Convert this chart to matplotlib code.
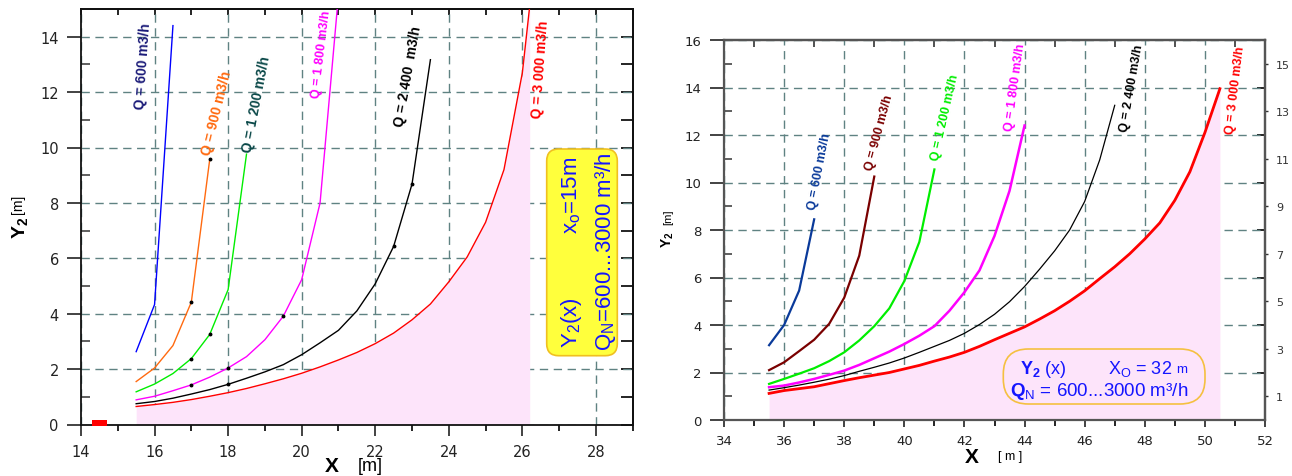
import numpy as np
import matplotlib
matplotlib.use('Agg')
import matplotlib.pyplot as plt
from matplotlib import font_manager
from matplotlib.patches import FancyBboxPatch, Rectangle

installed = {f.name for f in font_manager.fontManager.ttflist}
NARROW = 'Liberation Sans Narrow' if 'Liberation Sans Narrow' in installed else 'Liberation Sans'

plt.rcParams['font.family'] = ['DejaVu Sans']
plt.rcParams['mathtext.fontset'] = 'custom'
plt.rcParams['mathtext.rm'] = 'Liberation Sans'
plt.rcParams['mathtext.bf'] = 'Liberation Sans:bold'
plt.rcParams['mathtext.it'] = 'Liberation Sans:italic'

# ---- left chart, x0 = 15 m ----
L_X = [15.5, 16.0, 16.5, 17.0, 17.5, 18.0, 18.5, 19.0, 19.5, 20.0, 20.5, 21.0,
       21.5, 22.0, 22.5, 23.0, 23.5, 24.0, 24.5, 25.0, 25.5, 26.0, 26.2]
L_Q600 = [2.63, 4.33, 14.4]
L_Q900 = [1.55, 2.04, 2.85, 4.42, 9.57]
L_Q1200 = [1.18, 1.46, 1.84, 2.38, 3.25, 4.87, 9.76]
L_Q1800 = [0.89, 1.02, 1.22, 1.43, 1.71, 2.04, 2.45, 3.06, 3.91, 5.23, 8.0, 15.5]
L_Q2400 = [0.75, 0.83, 0.95, 1.1, 1.26, 1.45, 1.67, 1.9, 2.16, 2.52, 2.95, 3.4,
           4.1, 5.08, 6.43, 8.68, 13.17]
L_Q3000 = [0.65, 0.72, 0.8, 0.9, 1.02, 1.15, 1.3, 1.47, 1.65, 1.85, 2.08, 2.33,
           2.6, 2.92, 3.3, 3.78, 4.35, 5.15, 6.05, 7.3, 9.2, 12.7, 15.1]
L_LABELS = ['Q = 600 m3/h', 'Q = 900 m3/h', 'Q = 1 200 m3/h', 'Q = 1 800 m3/h',
            'Q = 2 400  m3/h', 'Q = 3 000 m3/h']

# ---- right chart, x0 = 32 m ----
R_X = [35.5, 36.0, 36.5, 37.0, 37.5, 38.0, 38.5, 39.0, 39.5, 40.0, 40.5, 41.0,
       41.5, 42.0, 42.5, 43.0, 43.5, 44.0, 44.5, 45.0, 45.5, 46.0, 46.5, 47.0,
       47.5, 48.0, 48.5, 49.0, 49.5, 50.0, 50.5]
R_Q600 = [3.15, 4.0, 5.45, 8.45]
R_Q900 = [2.1, 2.43, 2.9, 3.38, 4.05, 5.15, 6.92, 10.25]
R_Q1200 = [1.52, 1.73, 1.95, 2.18, 2.48, 2.85, 3.35, 3.95, 4.7, 5.85, 7.5, 10.55]
R_Q1800 = [1.38, 1.45, 1.58, 1.73, 1.9, 2.08, 2.32, 2.6, 2.88, 3.2, 3.55, 3.95,
           4.6, 5.38, 6.3, 7.75, 9.65, 12.4]
R_Q2400 = [1.26, 1.36, 1.47, 1.59, 1.72, 1.87, 2.05, 2.22, 2.4, 2.61, 2.85, 3.1,
           3.35, 3.65, 4.02, 4.45, 4.98, 5.62, 6.35, 7.12, 8.0, 9.2, 10.95, 13.25]
R_Q3000 = [1.12, 1.24, 1.32, 1.4, 1.53, 1.66, 1.78, 1.89, 2.0, 2.15, 2.3, 2.48,
           2.65, 2.85, 3.1, 3.38, 3.65, 3.92, 4.25, 4.6, 5.0, 5.44, 5.95, 6.45,
           7.0, 7.62, 8.3, 9.25, 10.45, 12.1, 13.95]
R_LABELS = ['Q = 600 m3/h', 'Q = 900 m3/h', 'Q = 1 200 m3/h', 'Q = 1 800 m3/h',
            'Q = 2 400 m3/h', 'Q = 3 000 m3/h']

PINK = '#fde4fa'
GRID = '#5f8282'
BLUE = '#1515ff'

W, H = 1292, 477
fig = plt.figure(figsize=(W / 100, H / 100), dpi=100)


def px_axes(x0, y0, x1, y1):
    return fig.add_axes([x0 / W, 1 - y1 / H, (x1 - x0) / W, (y1 - y0) / H])


def ftext(x, y, s, **kw):
    return fig.text(x / W, 1 - y / H, s, **kw)


# ================= left chart =================
axL = px_axes(81, 10, 632.7, 425.5)
axL.set_xlim(14, 29)
axL.set_ylim(0, 15)
axL.set_axisbelow(True)

left_curves = [L_Q600, L_Q900, L_Q1200, L_Q1800, L_Q2400, L_Q3000]
left_line_c = ['#0000ff', '#ff6a10', '#00ee00', '#ff00ff', '#000000', '#ff0000']
left_text_c = ['#1a1a78', '#ff6a10', '#0a4848', '#ff00ff', '#000000', '#ff0000']
left_dots = [[], [3, 4], [3, 4], [3, 5, 8], [5, 14, 15], []]

axL.fill_between(L_X, 0, L_Q3000, color=PINK, lw=0, zorder=1)
for ys, c, dots in zip(left_curves, left_line_c, left_dots):
    xs = L_X[:len(ys)]
    axL.plot(xs, ys, color=c, lw=1.0, zorder=3)
    if dots:
        axL.plot([xs[i] for i in dots], [ys[i] for i in dots], 'o', color='black',
                 ms=1.8, zorder=4)

left_lab_pos = [(15.68, 12.96, 86), (17.69, 11.28, 76), (18.77, 11.58, 79),
                (20.54, 13.39, 83), (22.9, 12.6, 80), (26.49, 12.85, 86)]
left_lab_fs = [10, 10, 10, 9, 10, 10]
for s, c, (x, y, r), fs in zip(L_LABELS, left_text_c, left_lab_pos, left_lab_fs):
    axL.text(x, y, s, rotation=r, rotation_mode='anchor', ha='center', va='center',
             color=c, fontsize=fs, fontweight='bold', family=NARROW, zorder=5)

# small red marker at the start of the x axis
axL.add_patch(Rectangle((14.3, -0.06), 0.4, 0.22, color='#ff0000', lw=0,
                        clip_on=False, zorder=6))

axL.set_xticks(np.arange(14, 30, 2))
axL.set_xticks(np.arange(15, 30, 2), minor=True)
axL.set_yticks(np.arange(0, 16, 2))
axL.set_yticks(np.arange(1, 16, 2), minor=True)
axL.grid(True, which='major', color=GRID, lw=1.0, linestyle=(0, (6, 4)))
axL.tick_params(axis='y', which='major', direction='out', length=10, width=1.2,
                labelsize=10.5, pad=6, colors='#222222')
axL.tick_params(axis='y', which='minor', direction='in', length=6.5, width=1.2,
                color='#444444')
axL.tick_params(axis='x', which='major', direction='out', length=8, width=1.2,
                labelsize=10.5, pad=6, colors='#222222')
axL.tick_params(axis='x', which='minor', direction='out', length=4.5, width=1.2)
for sp in axL.spines.values():
    sp.set_color('#111111')
    sp.set_linewidth(1.3)

topL = axL.secondary_xaxis('top')
topL.set_xticks(np.arange(14, 30))
topL.tick_params(direction='in', length=4.5, width=1.2, labeltop=False)
rightL = axL.secondary_yaxis('right')
rightL.set_yticks(np.arange(0, 16))
rightL.tick_params(direction='in', length=9, width=1.2, labelright=False)
for sec in (topL, rightL):
    for sp in sec.spines.values():
        sp.set_linewidth(1.3)

# yellow info box
fig.add_artist(FancyBboxPatch((546.7 / 100, (H - 356.7) / 100), 0.706, 2.067,
                              boxstyle='round,pad=0,rounding_size=0.12',
                              transform=fig.dpi_scale_trans, fc='#ffff3c',
                              ec='#f0c020', lw=1.2, zorder=5))
ftext(572, 323, 'Y$_\\mathregular{2}$(x)', rotation=90, ha='center', va='center',
      fontsize=16, color=BLUE, family=NARROW, zorder=6)
ftext(572, 195, 'x$_\\mathregular{o}$=15m', rotation=90, ha='center', va='center',
      fontsize=16, color=BLUE, family=NARROW, zorder=6)
ftext(605, 252, 'Q$_\\mathregular{N}$=600...3000 m³/h', rotation=90, ha='center',
      va='center', fontsize=16, color=BLUE, family=NARROW, zorder=6)

ftext(20, 228, '$\\mathbf{Y_2}$', rotation=90, ha='center', va='center', fontsize=14)
ftext(18, 204, '[m]', rotation=90, ha='center', va='center', fontsize=10,
      family='Liberation Sans')
ftext(332, 467, 'X', ha='center', va='center', fontsize=15, fontweight='bold',
      family='Liberation Sans')
ftext(370, 467, '[m]', ha='center', va='center', fontsize=13, family='Liberation Sans')

# ================= right chart =================
axR = px_axes(724, 41, 1265, 421)
axR.set_xlim(34, 52)
axR.set_ylim(0, 16)
axR.set_axisbelow(True)

right_curves = [R_Q600, R_Q900, R_Q1200, R_Q1800, R_Q2400, R_Q3000]
right_c = ['#0a3a9a', '#7a0000', '#00ee00', '#ff00ff', '#000000', '#ff0000']
right_lw = [1.6, 1.6, 1.6, 1.8, 0.9, 2.0]

axR.fill_between(R_X, 0, R_Q3000, color=PINK, lw=0, zorder=1)
for ys, c, lw in zip(right_curves, right_c, right_lw):
    axR.plot(R_X[:len(ys)], ys, color=c, lw=lw, zorder=3)

right_lab_pos = [(37.19, 10.5, 79), (39.18, 12.11, 75), (41.36, 12.79, 77),
                 (43.69, 14.05, 82), (47.57, 14.0, 80), (51.03, 13.9, 83)]
for s, c, (x, y, r) in zip(R_LABELS, right_c, right_lab_pos):
    axR.text(x, y, s, rotation=r, rotation_mode='anchor', ha='center', va='center',
             color=c, fontsize=9, fontweight='bold', family=NARROW, zorder=5)

axR.set_xticks(np.arange(34, 53, 2))
axR.set_xticks(np.arange(35, 53, 2), minor=True)
axR.set_yticks(np.arange(0, 17, 2))
axR.set_yticks(np.arange(1, 17, 2), minor=True)
axR.grid(True, which='major', color=GRID, lw=1.0, linestyle=(0, (6, 4)))
axR.tick_params(axis='y', which='major', direction='out', length=10, width=1.2,
                labelsize=9.5, pad=6, colors='#222222')
axR.tick_params(axis='y', which='minor', direction='in', length=6, width=1.2,
                color='#444444')
axR.tick_params(axis='x', which='major', direction='out', length=5, width=1.2,
                labelsize=9.5, pad=5, colors='#222222')
axR.tick_params(axis='x', which='minor', direction='out', length=4, width=1.2)
for sp in axR.spines.values():
    sp.set_color('#555555')
    sp.set_linewidth(1.6)

topR = axR.secondary_xaxis('top')
topR.set_xticks(np.arange(35, 53, 2))
topR.tick_params(direction='in', length=5, width=1.2, labeltop=False, color='#333333')
rightR = axR.secondary_yaxis('right')
rightR.set_yticks(np.arange(1, 17, 2))
rightR.set_yticks(np.arange(0, 17, 2), minor=True)
rightR.tick_params(which='major', direction='out', length=2, width=1.0, pad=6,
                   labelsize=8, colors='#333333')
rightR.tick_params(which='minor', direction='in', length=6, width=1.2)
for sec in (topR, rightR):
    for sp in sec.spines.values():
        sp.set_color('#555555')
        sp.set_linewidth(1.6)

fig.add_artist(FancyBboxPatch((1003.3 / 100, (H - 405) / 100), 2.017, 0.55,
                              boxstyle='round,pad=0,rounding_size=0.25',
                              transform=fig.dpi_scale_trans, fc='none',
                              ec='#f5c040', lw=1.2, zorder=5))
ftext(1020, 369, '$\\mathbf{Y_2}$ (x)', ha='left', va='center', fontsize=13,
      color=BLUE, family='Liberation Sans', zorder=6)
ftext(1108, 369, 'X$_\\mathregular{O}$ = 32', ha='left', va='center', fontsize=13,
      color=BLUE, family='Liberation Sans', zorder=6)
ftext(1176, 370, 'm', ha='left', va='center', fontsize=9.5,
      color=BLUE, family='Liberation Sans', zorder=6)
ftext(1010, 392, '$\\mathbf{Q}$$_\\mathregular{N}$ = 600...3000 m³/h', ha='left',
      va='center', fontsize=13.5, color=BLUE, family='Liberation Sans', zorder=6)

ftext(668, 240, '$\\mathbf{Y_2}$', rotation=90, ha='center', va='center', fontsize=10)
ftext(668, 217, '[m]', rotation=90, ha='center', va='center', fontsize=8,
      family='Liberation Sans')
ftext(972, 458, 'X', ha='center', va='center', fontsize=15, fontweight='bold',
      family='Liberation Sans')
ftext(1010, 457, '[ m ]', ha='center', va='center', fontsize=9,
      family='Liberation Sans')

fig.savefig('out.png', dpi=100)
